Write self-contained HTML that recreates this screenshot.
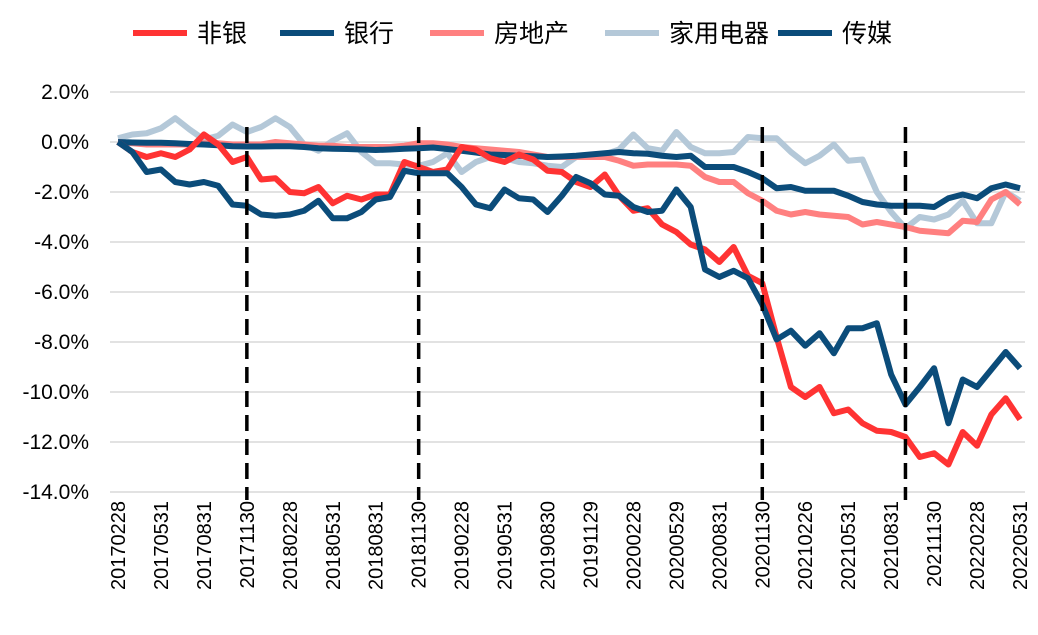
<!DOCTYPE html>
<html><head><meta charset="utf-8"><style>
body{margin:0;background:#fff;}
svg text{font-family:"Liberation Sans","Noto Sans CJK SC",sans-serif;}
</style></head><body>
<svg id="chart" width="1038" height="630" viewBox="0 0 1038 630" xmlns="http://www.w3.org/2000/svg"></svg>
<script>
const xLabels=["20170228","20170531","20170831","20171130","20180228","20180531","20180831","20181130","20190228","20190531","20190830","20191129","20200228","20200529","20200831","20201130","20210226","20210531","20210831","20211130","20220228","20220531"];
const yTicks=[2,0,-2,-4,-6,-8,-10,-12,-14];
const markerIdx=[9,21,45,55];
const feiyin=[0,-0.4,-0.6,-0.45,-0.6,-0.3,0.3,-0.1,-0.8,-0.6,-1.5,-1.45,-2.0,-2.05,-1.8,-2.45,-2.15,-2.3,-2.1,-2.1,-0.8,-1.0,-1.2,-1.1,-0.2,-0.3,-0.65,-0.8,-0.5,-0.7,-1.15,-1.2,-1.6,-1.8,-1.3,-2.15,-2.75,-2.65,-3.3,-3.6,-4.1,-4.3,-4.8,-4.2,-5.35,-5.65,-7.8,-9.8,-10.2,-9.8,-10.85,-10.7,-11.25,-11.55,-11.6,-11.8,-12.6,-12.45,-12.9,-11.6,-12.15,-10.9,-10.25,-11.1];
const yinhang=[0,-0.02,-0.03,-0.03,-0.05,-0.08,-0.1,-0.13,-0.17,-0.18,-0.18,-0.17,-0.17,-0.2,-0.25,-0.27,-0.28,-0.3,-0.32,-0.3,-0.27,-0.25,-0.22,-0.28,-0.35,-0.42,-0.5,-0.52,-0.55,-0.57,-0.6,-0.58,-0.55,-0.5,-0.45,-0.4,-0.45,-0.47,-0.55,-0.6,-0.55,-1.0,-1.0,-1.0,-1.2,-1.45,-1.85,-1.8,-1.95,-1.95,-1.95,-2.15,-2.4,-2.5,-2.55,-2.55,-2.55,-2.6,-2.25,-2.1,-2.25,-1.85,-1.7,-1.85];
const fangdichan=[0,-0.05,-0.1,-0.1,-0.1,-0.1,-0.05,-0.05,-0.1,-0.1,-0.1,0,-0.05,-0.1,-0.15,-0.15,-0.2,-0.2,-0.2,-0.2,-0.15,-0.05,-0.05,-0.1,-0.2,-0.25,-0.3,-0.35,-0.4,-0.5,-0.6,-0.6,-0.6,-0.6,-0.6,-0.75,-0.95,-0.9,-0.9,-0.9,-0.95,-1.4,-1.6,-1.6,-2.05,-2.35,-2.75,-2.9,-2.8,-2.9,-2.95,-3.0,-3.3,-3.2,-3.3,-3.4,-3.55,-3.6,-3.65,-3.15,-3.2,-2.3,-2.0,-2.5];
const jiadian=[0.15,0.3,0.35,0.55,0.95,0.5,0.1,0.25,0.7,0.4,0.6,0.95,0.6,-0.1,-0.35,0.05,0.35,-0.4,-0.85,-0.85,-0.9,-0.95,-0.8,-0.45,-1.2,-0.8,-0.6,-0.65,-0.8,-0.85,-0.95,-1.0,-0.6,-0.55,-0.5,-0.3,0.3,-0.25,-0.35,0.4,-0.2,-0.45,-0.45,-0.4,0.2,0.15,0.15,-0.4,-0.85,-0.55,-0.1,-0.75,-0.7,-2.0,-2.8,-3.45,-3.0,-3.1,-2.9,-2.35,-3.25,-3.25,-2.0,-2.35];
const chuanmei=[0,-0.4,-1.2,-1.1,-1.6,-1.7,-1.6,-1.75,-2.5,-2.55,-2.9,-2.95,-2.9,-2.75,-2.35,-3.05,-3.05,-2.8,-2.3,-2.2,-1.15,-1.25,-1.25,-1.25,-1.8,-2.5,-2.65,-1.9,-2.25,-2.3,-2.8,-2.15,-1.4,-1.65,-2.1,-2.15,-2.6,-2.8,-2.75,-1.9,-2.6,-5.1,-5.4,-5.15,-5.45,-6.5,-7.9,-7.55,-8.15,-7.65,-8.45,-7.45,-7.45,-7.25,-9.3,-10.5,-9.8,-9.05,-11.25,-9.5,-9.8,-9.1,-8.4,-9.05];

const svg=document.getElementById('chart');
const NS='http://www.w3.org/2000/svg';
const x0=118,x1=1020,n=feiyin.length;
const xs=i=>x0+i*(x1-x0)/(n-1);
const ys=v=>142-v*25;
function mk(t,a){const e=document.createElementNS(NS,t);for(const k in a)e.setAttribute(k,a[k]);svg.appendChild(e);return e;}

yTicks.forEach(v=>{
  const g=mk('line',{x1:x0-8,x2:x1+5,y1:ys(v),y2:ys(v),stroke:'#d9d9d9','stroke-width':1.5});
  
  
  const t=mk('text',{x:89,y:ys(v)+7,'text-anchor':'end','font-size':21,fill:'#000'});
  t.textContent=v.toFixed(1)+'%';
  
  
});
xLabels.forEach((s,k)=>{
  const x=xs(k*3);
  const t=mk('text',{transform:`translate(${x+7},501) rotate(-90)`,'text-anchor':'end','font-size':20,fill:'#000'});
  t.textContent=s;
  
  
});
const series=[[jiadian,'#b4c8d8','家用电器'],[fangdichan,'#ff8080','房地产'],[yinhang,'#0b4c7a','银行'],[feiyin,'#ff3333','非银'],[chuanmei,'#0b4c7a','传媒']];
series.forEach(([d,c,nm])=>{
  const p=mk('polyline',{points:d.map((v,i)=>xs(i)+','+ys(v)).join(' '),fill:'none',stroke:c,'stroke-width':6,'stroke-linejoin':'round'});
  
  
});
markerIdx.forEach(i=>{
  const l=mk('line',{x1:xs(i),x2:xs(i),y1:127,y2:500,stroke:'#000','stroke-width':3.5,'stroke-dasharray':'16,8'});
  
  
});
const legend=[['非银','#ff3333',133],['银行','#0b4c7a',280],['房地产','#ff8080',430],['家用电器','#b4c8d8',605],['传媒','#0b4c7a',778]];
legend.forEach(([nm,c,x])=>{
  const l=mk('line',{x1:x,x2:x+54,y1:33,y2:33,stroke:c,'stroke-width':6});
  
  
  const t=mk('text',{x:x+64,y:42,'font-size':25,fill:'#000'});
  t.textContent=nm;
  
  
});
</script>
</body></html>
